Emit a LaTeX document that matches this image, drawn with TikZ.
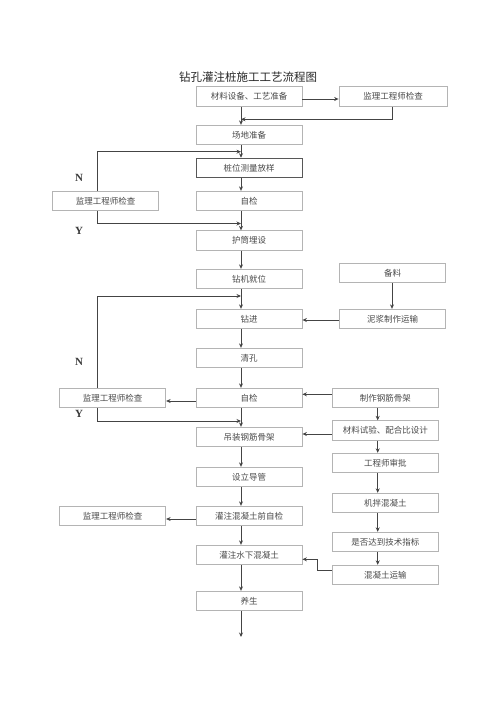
\documentclass[tikz,border=0pt]{standalone}
\usepackage{fontspec}
\newfontfamily\cjk{Noto Sans CJK SC}
\setmainfont{Liberation Serif}
\usetikzlibrary{arrows.meta}
\definecolor{boxline}{HTML}{B4B4B4}
\definecolor{conn}{HTML}{444444}
\definecolor{txt}{HTML}{4A4A4A}
\tikzset{
  box/.style={draw=boxline, line width=0.8pt, fill=white, minimum width=106pt, minimum height=19.5pt, inner sep=0pt, font=\cjk\fontsize{8.5}{10}\selectfont, text=txt},
  darkbox/.style={box, draw=conn!90, line width=1pt},
  arr/.style={draw=conn, line width=0.9pt, -{Stealth[length=4.5pt,width=4pt]}},
  ln/.style={draw=conn, line width=0.9pt},
  yn/.style={font=\fontsize{11}{12}\selectfont\bfseries, text=txt!80!black}
}
\begin{document}
\begin{tikzpicture}[x=1pt,y=-1pt]
\useasboundingbox (0,0) rectangle (500,707);
\node[font=\cjk\fontsize{11.5}{13}\selectfont, text=black!85] (title) at (248,77) {钻孔灌注桩施工工艺流程图};
% main column
\node[box] (m1) at (249,96.5) {材料设备、工艺准备};
\node[box] (m2) at (249,135) {场地准备};
\node[darkbox] (m3) at (249,168) {桩位测量放样};
\node[box] (m4) at (249,201) {自检};
\node[box] (m5) at (249,240.5) {护筒埋设};
\node[box] (m6) at (249,279) {钻机就位};
\node[box] (m7) at (249,319) {钻进};
\node[box] (m8) at (249,358) {清孔};
\node[box] (m9) at (249,398) {自检};
\node[box] (m10) at (249,437) {吊装钢筋骨架};
\node[box] (m11) at (249,477) {设立导管};
\node[box] (m12) at (249,516) {灌注混凝土前自检};
\node[box] (m13) at (249,555) {灌注水下混凝土};
\node[box] (m14) at (249,601) {养生};
\coordinate (a) at (241,0);
\coordinate (endp) at (241,637);
% right column
\node[box, minimum width=108pt] (r1) at (393,96.5) {监理工程师检查};
\node[box] (r2) at (392.5,273) {备料};
\node[box] (r3) at (392.5,319) {泥浆制作运输};
\node[box] (s1) at (385.3,398) {制作钢筋骨架};
\node[box] (s2) at (385.3,430.5) {材料试验、配合比设计};
\node[box] (s3) at (385.3,463) {工程师审批};
\node[box] (s4) at (385.3,503) {机拌混凝土};
\node[box] (s5) at (385.3,542) {是否达到技术指标};
\node[box] (s6) at (385.3,575) {混凝土运输};
\coordinate (b) at (392,0);
\coordinate (c) at (377.7,0);
% left column
\node[box] (l1) at (105.5,201) {监理工程师检查};
\node[box] (l2) at (112.7,398) {监理工程师检查};
\node[box] (l3) at (112.7,516) {监理工程师检查};
\coordinate (d) at (97.7,0);
\node[yn] (n1) at (79,178) {N};
\node[yn] (y1) at (79,231) {Y};
\node[yn] (n2) at (79,362) {N};
\node[yn] (y2) at (79,414) {Y};
% main arrows
\draw[arr] (m1.south -| a) -- (m2.north -| a);
\draw[arr] (m2.south -| a) -- (m3.north -| a);
\draw[arr] (m3.south -| a) -- (m4.north -| a);
\draw[arr] (m4.south -| a) -- (m5.north -| a);
\draw[arr] (m5.south -| a) -- (m6.north -| a);
\draw[arr] (m6.south -| a) -- (m7.north -| a);
\draw[arr] (m7.south -| a) -- (m8.north -| a);
\draw[arr] (m8.south -| a) -- (m9.north -| a);
\draw[arr] (m9.south -| a) -- (m10.north -| a);
\draw[arr] (m10.south -| a) -- (m11.north -| a);
\draw[arr] (m11.south -| a) -- (m12.north -| a);
\draw[arr] (m12.south -| a) -- (m13.north -| a);
\draw[arr] (m13.south -| a) -- (m14.north -| a);
\draw[arr] (m14.south -| a) -- (endp);
% top right check
\draw[arr] (m1.east |- 0,99) -- (r1.west |- 0,99);
\draw[arr] (r1.south -| b) |- (241,119.3);
% first loop
\draw[arr] (l1.north -| d) |- (241,151.7);
\draw[arr] (l1.south -| d) |- (241,223.5);
% mud
\draw[arr] (r2.south -| b) -- (r3.north -| b);
\draw[arr] (r3.west |- 0,320) -- (m7.east |- 0,320);
% second loop
\draw[arr] (m9.west |- 0,401) -- (l2.east |- 0,401);
\draw[arr] (l2.north -| d) |- (241,296);
\draw[arr] (l2.south -| d) |- (241,421);
% steel cage
\draw[arr] (s1.west |- 0,394.3) -- (m9.east |- 0,394.3);
\draw[arr] (s1.south -| c) -- (s2.north -| c);
\draw[arr] (s2.west |- 0,434) -- (m10.east |- 0,434);
\draw[arr] (s2.south -| c) -- (s3.north -| c);
\draw[arr] (s3.south -| c) -- (s4.north -| c);
\draw[arr] (s4.south -| c) -- (s5.north -| c);
\draw[arr] (s5.south -| c) -- (s6.north -| c);
\draw[arr] (s6.west |- 0,570.7) -- (317.7,570.7) |- (m13.east |- 0,559.3);
% third check
\draw[arr] (m12.west |- 0,519) -- (l3.east |- 0,519);
\end{tikzpicture}
\end{document}
